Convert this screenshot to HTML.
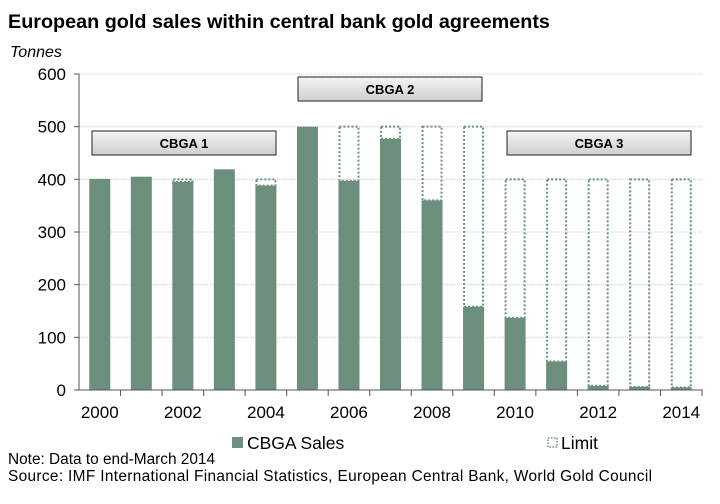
<!DOCTYPE html>
<html><head><meta charset="utf-8"><style>
body{margin:0;background:#fff;font-family:"Liberation Sans",Arial,sans-serif}
svg text{font-family:"Liberation Sans",Arial,sans-serif}
</style></head><body>
<svg id="c" width="720" height="499" xmlns="http://www.w3.org/2000/svg">
<defs><linearGradient id="gb" x1="0" y1="0" x2="0" y2="1"><stop offset="0" stop-color="#f4f4f4"/><stop offset="1" stop-color="#cfcfcf"/></linearGradient></defs>
<text x="8" y="28" font-size="19.8" font-weight="bold" fill="#000">European gold sales within central bank gold agreements</text>
<text x="10" y="57" font-size="16" font-style="italic" fill="#000">Tonnes</text>
<g id="grid"></g><g id="bars"></g><g id="axes"></g>
<g><rect x="92" y="131" width="184" height="24" fill="url(#gb)" stroke="#222" stroke-width="1"/><text x="184" y="148" font-size="13" font-weight="bold" text-anchor="middle">CBGA 1</text></g>
<g><rect x="298" y="77" width="184" height="24" fill="url(#gb)" stroke="#222" stroke-width="1"/><text x="390" y="94" font-size="13" font-weight="bold" text-anchor="middle">CBGA 2</text></g>
<g><rect x="507" y="131" width="184" height="24" fill="url(#gb)" stroke="#222" stroke-width="1"/><text x="599" y="148" font-size="13" font-weight="bold" text-anchor="middle">CBGA 3</text></g>
<g><rect x="232" y="437" width="11" height="11" fill="#6b8e7d"/><text x="247" y="449" font-size="17.5">CBGA Sales</text></g>
<g><rect x="548" y="438" width="9" height="9" fill="none" stroke="#6b8e7d" stroke-width="1.5" stroke-dasharray="1.5,1.5"/><text x="561" y="449" font-size="17.5">Limit</text></g>
<text x="8" y="464" font-size="15.4">Note: Data to end-March 2014</text>
<text x="8" y="481" font-size="15.4" textLength="644" lengthAdjust="spacing">Source: IMF International Financial Statistics, European Central Bank, World Gold Council</text>
</svg>
<script>
const years=[2000,2001,2002,2003,2004,2005,2006,2007,2008,2009,2010,2011,2012,2013,2014];
const sales=[401,405,395,419,388,500,397,477,360,158,137,54,8,6,5];
const limits=[400,400,400,400,400,500,500,500,500,500,400,400,400,400,400];
const yTicks=[0,100,200,300,400,500,600];
const xLabels=[2000,2002,2004,2006,2008,2010,2012,2014];
const NS="http://www.w3.org/2000/svg";
const x0=79,x1=702,yTop=74,yBot=390,band=(x1-x0)/years.length,bw=19;
const y=v=>yBot-(v/600)*(yBot-yTop);
const xc=i=>x0+band*(i+0.5);
function mk(t,a,p){const e=document.createElementNS(NS,t);for(const k in a)e.setAttribute(k,a[k]);p.appendChild(e);return e;}
const grid=document.getElementById('grid'),bars=document.getElementById('bars'),axes=document.getElementById('axes');
yTicks.forEach(v=>{
  if(v>0){const g=mk('line',{x1:x0,x2:x1,y1:y(v),y2:y(v),stroke:'#ccc','stroke-dasharray':'1,1'},grid);
  
  }
  const t=mk('text',{x:66,y:y(v)+6,'font-size':17,'text-anchor':'end'},axes);t.textContent=v;
  
  
  mk('line',{x1:x0-5,x2:x0,y1:y(v),y2:y(v),stroke:'#555'},axes);
});
years.forEach((yr,i)=>{
  if(limits[i]>sales[i]){
  const l=mk('rect',{x:xc(i)-bw/2,y:y(limits[i]),width:bw,height:y(sales[i])-y(limits[i]),fill:'none',stroke:'#6b8e7d','stroke-width':2,'stroke-dasharray':'2,2'},bars);
  
  }
  const b=mk('rect',{x:xc(i)-bw/2-1,y:y(sales[i]),width:bw+2,height:yBot-y(sales[i]),fill:'#6b8e7d'},bars);
  
  
  mk('line',{x1:x0+band*(i+1),x2:x0+band*(i+1),y1:yBot,y2:yBot+6,stroke:'#555'},axes);
});
xLabels.forEach(yr=>{const i=years.indexOf(yr);
  const t=mk('text',{x:xc(i),y:yBot+28,'font-size':17,'text-anchor':'middle'},axes);t.textContent=yr;
  
  });
mk('line',{x1:x0,x2:x0,y1:yTop,y2:yBot,stroke:'#555'},axes);
mk('line',{x1:x0,x2:x1+1,y1:yBot,y2:yBot,stroke:'#555'},axes);
</script>
</body></html>
